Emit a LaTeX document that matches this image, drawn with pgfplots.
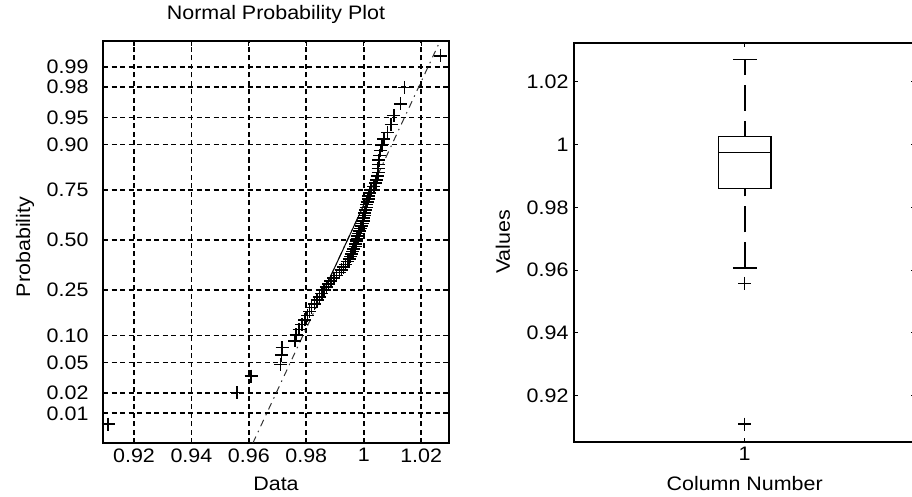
\documentclass[border=0pt]{standalone}
\usepackage{fontspec}
\setmainfont{Liberation Sans}[FakeStretch=1.1]
\usepackage{pgfplots}
\pgfplotsset{compat=1.18}
\pgfplotstableread{
x y
0.9110 -2.470
0.9558 -2.048
0.9608 -1.828
0.9710 -1.671
0.9713 -1.547
0.9716 -1.444
0.9760 -1.354
0.9765 -1.274
0.9775 -1.201
0.9785 -1.134
0.9795 -1.072
0.9805 -1.013
0.9812 -0.958
0.9818 -0.906
0.9828 -0.856
0.9838 -0.808
0.9846 -0.762
0.9854 -0.718
0.9862 -0.674
0.9870 -0.632
0.9878 -0.592
0.9886 -0.552
0.9896 -0.513
0.9906 -0.474
0.9915 -0.437
0.9923 -0.400
0.9930 -0.364
0.9937 -0.328
0.9943 -0.292
0.9949 -0.257
0.9954 -0.222
0.9958 -0.187
0.9962 -0.153
0.9966 -0.119
0.9970 -0.085
0.9972 -0.051
0.9974 -0.017
0.9977 0.017
0.9980 0.051
0.9983 0.085
0.9986 0.119
0.9989 0.153
0.9992 0.187
0.9995 0.222
0.9998 0.257
1.0000 0.292
1.0002 0.328
1.0004 0.364
1.0006 0.400
1.0008 0.437
1.0010 0.474
1.0012 0.513
1.0015 0.552
1.0018 0.592
1.0021 0.632
1.0025 0.674
1.0035 0.718
1.0042 0.762
1.0045 0.808
1.0048 0.856
1.0050 0.906
1.0050 0.958
1.0052 1.013
1.0053 1.072
1.0055 1.134
1.0058 1.201
1.0063 1.274
1.0070 1.354
1.0082 1.444
1.0095 1.547
1.0105 1.671
1.0128 1.828
1.0142 2.048
1.0268 2.470
}\normdata

\begin{document}
\begin{tikzpicture}[x=1pt,y=1pt]
\useasboundingbox (0,0) rectangle (912,496);
\begin{axis}[
  at={(103pt,53pt)}, anchor=south west, scale only axis,
  width=346pt, height=402pt,
  xmin=0.9092, xmax=1.0297, ymin=-2.725, ymax=2.671,
  xtick={0.92,0.94,0.96,0.98,1,1.02},
  ytick={-2.3263,-2.0537,-1.6449,-1.2816,-0.6745,0,0.6745,1.2816,1.6449,2.0537,2.3263},
  yticklabels={0.01,0.02,0.05,0.10,0.25,0.50,0.75,0.90,0.95,0.98,0.99},
  tick align=inside, major tick length=5pt,
  tick style={black, line width=1.2pt},
  grid=major,
  major grid style={black, line width=1.8pt, dash pattern=on 5pt off 3.5pt},
  axis line style={black, line width=1.8pt},
  /pgf/number format/assume math mode=true,
  ticklabel style={font=\fontsize{19.5}{21}\selectfont},
  xticklabel style={yshift=-2pt},
  yticklabel style={xshift=-11pt},
  title={Normal Probability Plot},
  title style={at={(axis description cs:0.5,1.052)}, anchor=center, font=\fontsize{19.5}{21}\selectfont},
  xlabel={Data},
  xlabel style={at={(axis description cs:0.5,-0.102)}, anchor=center, font=\fontsize{19.5}{21}\selectfont},
  ylabel={Probability},
  ylabel style={at={(axis description cs:-0.225,0.4876)}, anchor=center, font=\fontsize{19.5}{21}\selectfont},
]
\addplot[black!80, line width=1pt, dash pattern=on 7pt off 5pt on 1.5pt off 5pt] coordinates {(0.9614,-2.725) (1.0266,2.671)};
\addplot[black, line width=1pt] coordinates {(0.9862,-0.6745) (1.0025,0.6745)};
\addplot[only marks, mark=+, mark size=6.5pt, black, mark options={line width=1.5pt}] table {\normdata};
\end{axis}

\begin{axis}[
  at={(574pt,54.3pt)}, anchor=south west, scale only axis,
  width=341.4pt, height=399pt,
  xmin=0.5, xmax=1.5, ymin=0.9054, ymax=1.0324,
  xtick={1}, ytick={0.92,0.94,0.96,0.98,1,1.02},
  tick align=inside, major tick length=4pt,
  tick style={black, line width=1pt},
  axis line style={black, line width=1.8pt},
  /pgf/number format/assume math mode=true,
  ticklabel style={font=\fontsize{19.5}{21}\selectfont},
  xticklabel style={yshift=-2pt},
  yticklabel style={xshift=-2pt},
  xlabel={Column Number},
  xlabel style={at={(axis description cs:0.5,-0.105)}, anchor=center, inner sep=1pt, font=\fontsize{19.5}{21}\selectfont},
  ylabel={Values},
  ylabel style={at={(axis description cs:-0.208,0.5005)}, anchor=center, font=\fontsize{19.5}{21}\selectfont},
]
\addplot[black, line width=1.7pt] coordinates {(0.9228,0.9860) (1.0772,0.9860) (1.0772,1.0025) (0.9228,1.0025) (0.9228,0.9860)};
\addplot[black, line width=1.1pt] coordinates {(0.9228,0.9974) (1.0772,0.9974)};
\addplot[black, line width=1.7pt] coordinates {(0.965,1.0271) (1.035,1.0271)};
\addplot[black, line width=1.7pt] coordinates {(0.965,0.9606) (1.035,0.9606)};
\addplot[black, line width=2pt, dash pattern=on 26pt off 10pt] coordinates {(1,0.9606) (1,0.9860)};
\addplot[black, line width=2pt, dash pattern=on 26pt off 10pt, dash phase=10pt] coordinates {(1,1.0271) (1,1.0025)};
\addplot[only marks, mark=+, mark size=6.5pt, black, mark options={line width=1.5pt}] coordinates {(1,0.9558) (1,0.9110)};
\end{axis}
\end{tikzpicture}
\end{document}
